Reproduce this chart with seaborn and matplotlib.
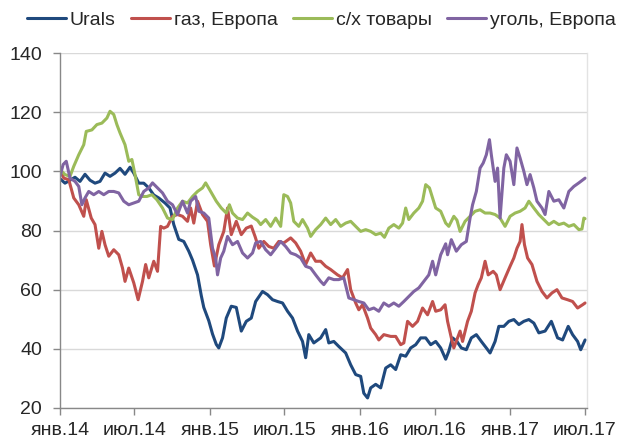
import numpy as np
import pandas as pd
import matplotlib
matplotlib.use("Agg")
import matplotlib.pyplot as plt
from matplotlib.lines import Line2D
import seaborn as sns

# Index values (start of 2014 = 100); time in months since January 2014
series_names = ["Urals", "газ, Европа", "с/х товары", "уголь, Европа"]

urals_t = [0, 0.4, 0.8, 1.2, 1.6, 2.0, 2.4, 2.8, 3.2, 3.6, 4.0, 4.4, 4.8, 5.2, 5.6, 5.9,
           6.3, 6.7, 7.1, 7.5, 7.9, 8.4, 8.8, 9.1, 9.5, 9.9, 10.3, 10.6, 11.0, 11.3, 11.5,
           11.9, 12.2, 12.5, 12.7, 13.0, 13.3, 13.7, 14.1, 14.5, 14.9, 15.3, 15.65, 16.2,
           16.6, 17.0, 17.4, 17.8, 18.2, 18.6, 19.0, 19.4, 19.65, 19.9, 20.3, 20.85, 21.25,
           21.5, 21.9, 22.3, 22.85, 23.25, 23.65, 24.05, 24.3, 24.6, 24.85, 25.25, 25.65,
           26.05, 26.45, 26.85, 27.25, 27.65, 28.05, 28.45, 28.85, 29.25, 29.65, 30.05,
           30.45, 30.85, 31.1, 31.4, 31.75, 32.1, 32.5, 32.9, 33.3, 33.7, 34.1, 34.4, 34.8,
           35.1, 35.5, 35.9, 36.3, 36.7, 37.1, 37.5, 37.9, 38.3, 38.8, 39.3, 39.8, 40.2,
           40.65, 41.0, 41.4, 41.65, 42.0]
urals_v = [97.5, 96, 97, 98, 96.6, 99, 97, 96, 96.6, 99.4, 98.3, 99.4, 101, 99, 101.4, 99.4,
           96, 96, 94.4, 92, 91, 89.3, 87.6, 82, 77, 76.3, 73, 70, 65, 58, 54,
           49.5, 45, 41.5, 40.3, 43.7, 50.4, 54.4, 54, 46, 49.3, 50.4, 56, 59.4,
           58.3, 56.6, 56, 55.5, 52.7, 50.4, 46, 42.5, 37, 44.8, 42, 43.7, 46.5,
           42, 42.5, 40.8, 38.6, 34.6, 31.3, 30.7, 25, 23.4, 26.8, 28, 26.8,
           33.5, 34.6, 33, 38, 37.5, 40.3, 41.4, 43.7, 43.7, 41.4, 42.5,
           40.3, 36.5, 39.2, 43.7, 42.5, 40.3, 39.7, 43.7, 44.8, 42.5, 40.3, 38.6, 42.5,
           47.6, 47.6, 49.3, 49.9, 48.2, 49.3, 49.9, 48.7, 45.4, 46, 49.3, 43.7, 43,
           47.6, 44.8, 42.5, 39.7, 43]

gas_t = [0, 0.3, 0.7, 1.1, 1.5, 1.9, 2.1, 2.5, 2.8, 3.1, 3.35, 3.6, 3.9, 4.3, 4.7, 5.0, 5.2,
         5.5, 5.9, 6.25, 6.6, 6.85, 7.1, 7.5, 7.8, 8.05, 8.3, 8.6, 9.0, 9.4, 9.8, 10.2,
         10.45, 10.7, 11.0, 11.4, 11.8, 12.05, 12.35, 12.7, 13.1, 13.4, 13.7, 14.1, 14.5,
         14.9, 15.3, 15.6, 15.9, 16.3, 16.7, 17.1, 17.5, 17.9, 18.45, 18.85, 19.25, 19.65,
         20.05, 20.45, 20.85, 21.25, 21.65, 22.2, 22.6, 23.0, 23.25, 23.65, 23.9, 24.2,
         24.6, 24.85, 25.25, 25.5, 25.9, 26.45, 26.85, 27.25, 27.5, 27.8, 28.2, 28.6, 29.0,
         29.4, 29.8, 30.05, 30.45, 30.8, 31.0, 31.3, 31.5, 32.0, 32.2, 32.6, 32.9, 33.2,
         33.45, 33.7, 34.0, 34.25, 34.65, 34.9, 35.2, 35.6, 36.0, 36.3, 36.55, 36.8, 36.95,
         37.15, 37.4, 37.75, 38.15, 38.55, 38.95, 39.35, 39.75, 40.15, 40.6, 41.0, 41.4,
         41.8, 42.0]
gas_v = [100.6, 97.7, 97.2, 91, 88.7, 84.8, 90.4, 84.2, 82, 74, 79.7, 75.2, 71.3, 73.5, 71.8,
         67.3, 62.8, 67.3, 62.3, 56.6, 62.8, 68.5, 64, 69.6, 66.2, 81.4, 80.8, 81.4, 84.8,
         85.4, 84.8, 83.1, 87.6, 82.5, 89.9, 85.4, 83.1, 75.2, 68, 75.2, 79.7, 87.6, 78.6,
         83.1, 78.6, 80.8, 81.5, 78, 74, 76.3, 74.6, 74, 76.3, 75.8, 77.5, 75.8, 73, 68.5,
         72.4, 69.6, 69.6, 67.9, 66.8, 65, 64, 66.8, 60, 55.5, 53.2, 54.9, 50.4, 47, 44.8,
         43, 44.8, 44.2, 44.2, 41.4, 42, 49.3, 47.6, 49.3, 53.8, 51.5, 56, 52.7, 53.2, 54.9,
         49.3, 43.7, 40.3, 46, 42.5, 49.3, 52.7, 58.9, 61.7, 64, 69.6, 65, 66.2, 65, 60, 64,
         67.9, 70.7, 74, 76.3, 82, 75.2, 70.7, 68.5, 62.8, 59.4, 57.2, 58.9, 60, 57.2, 56.6,
         56, 53.8, 54.9, 55.5]

agri_t = [0, 0.4, 0.8, 1.1, 1.5, 1.9, 2.1, 2.55, 2.95, 3.35, 3.75, 4.0, 4.3, 4.55, 4.8, 5.2,
          5.5, 5.75, 6.0, 6.3, 6.55, 6.95, 7.35, 7.75, 8.2, 8.6, 9.0, 9.4, 9.8, 10.2, 10.6,
          11.0, 11.4, 11.65, 12.05, 12.5, 12.9, 13.3, 13.55, 13.8, 14.2, 14.6, 15.0, 15.4,
          15.8, 16.05, 16.45, 16.85, 17.25, 17.65, 17.9, 18.2, 18.45, 18.7, 19.1, 19.4,
          19.8, 20.05, 20.45, 20.85, 21.25, 21.65, 22.05, 22.45, 22.85, 23.25, 23.65, 24.05,
          24.45, 24.85, 25.25, 25.65, 25.95, 26.3, 26.7, 27.1, 27.4, 27.65, 27.9, 28.3,
          28.7, 29.0, 29.25, 29.55, 29.8, 30.05, 30.45, 30.85, 31.1, 31.5, 31.75, 32.0,
          32.4, 32.8, 33.2, 33.6, 34.0, 34.4, 34.8, 35.2, 35.6, 36.0, 36.4, 36.8, 37.2,
          37.5, 37.9, 38.3, 38.7, 39.1, 39.5, 39.9, 40.3, 40.7, 41.1, 41.5, 41.75, 41.9, 42.0]
agri_v = [100.6, 98.9, 98.3, 101.7, 105.6, 109, 113.5, 114, 115.8, 116.3, 118, 120.3, 119.2,
          115.8, 113, 109, 103.4, 104, 98.9, 92.1, 91.5, 91.5, 92.1, 90.4, 87.6, 84.2, 83.7,
          87.6, 89.9, 89.3, 91.5, 93.2, 94.4, 96.1, 93.2, 89.9, 87.6, 85.9, 88.7, 85.9, 84.2,
          83.7, 85.9, 84.5, 83.4, 82, 83.7, 81.4, 84.2, 81.4, 92.1, 91.5, 89.3, 83.1, 81.4,
          83.7, 80.8, 78, 80.3, 82, 84.2, 82, 83.7, 81.4, 82.5, 83.1, 81.4, 79.7, 80.3, 79.7,
          78.6, 79.1, 77.7, 80.8, 82, 80.8, 82.5, 87.6, 83.7, 85.9, 87.6, 89.9, 95.5, 94.4,
          91, 87.6, 86.5, 82.5, 81.4, 84.8, 83.5, 79.7, 83.1, 84.8, 86.5, 87, 85.9, 85.9,
          85.4, 84.2, 81.4, 84.8, 85.9, 86.5, 87.6, 89.9, 87.6, 85.4, 83.7, 82, 83.1, 82,
          82.5, 81.4, 82, 80.3, 80.5, 84.2, 84]

coal_t = [0, 0.25, 0.5, 0.8, 1.2, 1.5, 1.75, 2.0, 2.3, 2.7, 3.1, 3.5, 3.9, 4.3, 4.7, 5.1,
          5.5, 5.9, 6.3, 6.7, 7.1, 7.4, 7.8, 8.2, 8.6, 9.0, 9.4, 9.8, 10.2, 10.45, 10.85,
          11.1, 11.5, 11.9, 12.2, 12.45, 12.6, 12.85, 13.1, 13.4, 13.8, 14.2, 14.6, 15.0,
          15.4, 15.65, 16.05, 16.45, 16.85, 17.25, 17.65, 18.05, 18.45, 18.85, 19.25, 19.65,
          20.05, 20.45, 20.85, 21.1, 21.5, 21.9, 22.3, 22.7, 23.1, 23.5, 23.9, 24.3, 24.7,
          25.1, 25.5, 25.9, 26.3, 26.7, 27.1, 27.5, 27.9, 28.3, 28.7, 29.1, 29.5, 29.8,
          30.05, 30.45, 30.85, 31.0, 31.3, 31.7, 32.1, 32.5, 32.8, 33.0, 33.3, 33.6, 33.85,
          34.1, 34.35, 34.5, 34.8, 35.0, 35.2, 35.5, 35.7, 36.0, 36.3, 36.55, 36.8, 37.1,
          37.35, 37.6, 37.9, 38.15, 38.55, 38.8, 39.1, 39.5, 39.9, 40.3, 40.7, 41.1, 41.5, 42.0]
coal_v = [98.3, 102.3, 103.4, 97.7, 96.6, 94.9, 88.7, 91, 93.2, 92.1, 93.2, 92.1, 93.2, 93.2,
          92.7, 89.9, 88.7, 89.3, 89.9, 93.2, 94.4, 96.1, 94.4, 92.7, 89.9, 88.7, 85.4, 89.9,
          85.9, 89.9, 91.5, 86.5, 85.9, 84.2, 74, 70.7, 65, 70.7, 73, 78, 75.2, 76.3, 72.4,
          70.7, 72.4, 75.8, 76.3, 73.5, 71.8, 74, 76.3, 74.6, 72.4, 71.8, 70.7, 67.9, 67.3,
          65, 62.8, 61.7, 64, 63.4, 63.4, 64, 57.2, 56.6, 56, 55.5, 53.2, 53.8, 52.7, 55.5,
          54.4, 55.5, 54.4, 56, 57.7, 59.4, 60.6, 62.8, 65, 69.6, 65, 71.8, 75.5, 71.8, 76.9,
          73, 75.2, 76.3, 84.2, 88.7, 93.2, 101.1, 102.8, 105.6, 110.7, 105.6, 96.6, 101.1,
          84.2, 101.1, 105.6, 103.4, 95.5, 107.9, 104.5, 100, 95.5, 98.9, 94.4, 89.9, 87.6,
          85.4, 93.2, 89.9, 90.4, 87.6, 93.2, 94.9, 96.1, 97.7]

tick_labels = ["янв.14", "июл.14", "янв.15", "июл.15", "янв.16", "июл.16", "янв.17", "июл.17"]
colors = ["#1F497D", "#C0504D", "#9BBB59", "#8064A2"]

start = pd.Timestamp("2014-01-01")


def to_frame(name, months, values):
    dates = start + pd.to_timedelta(np.asarray(months) * 30.4375, unit="D")
    return pd.DataFrame({"date": dates, "value": values, "series": name})


df = pd.concat([
    to_frame(series_names[0], urals_t, urals_v),
    to_frame(series_names[1], gas_t, gas_v),
    to_frame(series_names[2], agri_t, agri_v),
    to_frame(series_names[3], coal_t, coal_v),
], ignore_index=True)

sns.set_style("white")
plt.rcParams["font.family"] = ["Liberation Sans", "DejaVu Sans"]

fig = plt.figure(figsize=(6.24, 4.41), dpi=100)
ax = fig.add_axes([60 / 624, 33 / 441, 527 / 624, 355 / 441])

sns.lineplot(data=df, x="date", y="value", hue="series", hue_order=series_names,
             palette=colors, linewidth=2.2, ax=ax, legend=False, estimator=None, sort=False)

ax.set_ylim(20, 140)
ax.set_yticks(range(20, 141, 20))
ax.set_xlim(start, pd.Timestamp("2017-07-07"))
ticks = pd.date_range("2014-01-01", "2017-07-01", freq="6MS")
ax.set_xticks(ticks)
ax.set_xticklabels(tick_labels)
ax.set_xlabel("")
ax.set_ylabel("")

ax.grid(axis="y", color="#D9D9D9", linewidth=1)
ax.set_axisbelow(True)
for side in ["left", "bottom"]:
    ax.spines[side].set_color("#888888")
    ax.spines[side].set_linewidth(1)
ax.spines["right"].set_color("#E3E3E3")
ax.spines["right"].set_linewidth(1)
ax.spines["top"].set_visible(False)

ax.tick_params(axis="y", direction="out", length=5, width=1, color="#888888",
               labelsize=14, pad=8, left=True)
ax.tick_params(axis="x", direction="out", length=5, width=1, color="#888888",
               labelsize=14, pad=5, bottom=True)

handles = [Line2D([0], [0], color=c, linewidth=2.2) for c in colors]
fig.legend(handles, series_names, loc="upper center", bbox_to_anchor=(0.515, 1.0),
           ncol=4, frameon=False, fontsize=14, handlelength=2.0, handletextpad=0.2,
           columnspacing=0.8, borderaxespad=0.2)

fig.savefig("out.png", dpi=100)
